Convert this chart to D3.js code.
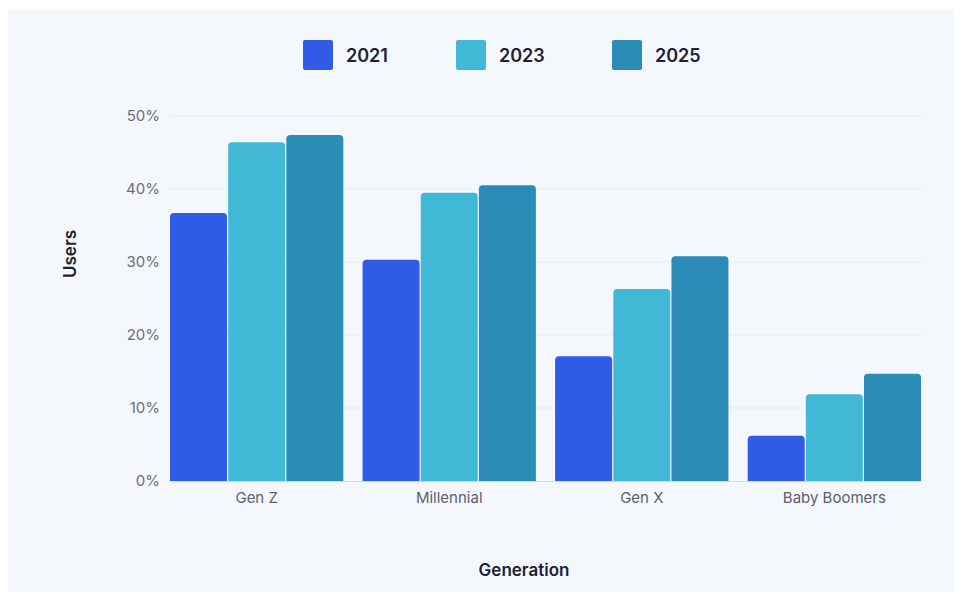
<!DOCTYPE html>
<html>
<head>
<meta charset="utf-8">
<script src="https://cdn.jsdelivr.net/npm/d3@7/dist/d3.min.js"></script>
<style>
  html, body { margin: 0; padding: 0; background: #ffffff; }
  svg { display: block; font-family: Inter, "Noto Sans", sans-serif; }
</style>
</head>
<body>
<svg id="chart" width="967" height="594"></svg>
<script>
const categories = ["Gen Z", "Millennial", "Gen X", "Baby Boomers"];
const seriesNames = ["2021", "2023", "2025"];
const values2021 = [36.7, 30.3, 17.1, 6.2];
const values2023 = [46.4, 39.5, 26.3, 11.9];
const values2025 = [47.4, 40.5, 30.8, 14.7];
const yTicks = [0, 10, 20, 30, 40, 50];
const colors = ["#2f5be6", "#41b8d5", "#2b8cb8"];

const seriesValues = [values2021, values2023, values2025];

const svg = d3.select("#chart");
const W = 967, H = 594;
const margin = { left: 170, right: 46, top: 116, bottom: 113 };

svg.append("rect").attr("x", 8).attr("y", 10).attr("width", 946).attr("height", 582)
  .attr("fill", "#f4f8fd");

const x0 = d3.scaleBand().domain(categories)
  .range([margin.left, W - margin.right]).paddingInner(0.1).paddingOuter(0);
const x1 = d3.scaleBand().domain(seriesNames)
  .range([0, x0.bandwidth()]).paddingInner(0.02);
const y = d3.scaleLinear().domain([0, 50]).range([H - margin.bottom, margin.top]);

// gridlines
svg.append("g").selectAll("line").data(yTicks.filter(d => d > 0)).join("line")
  .attr("x1", margin.left).attr("x2", W - margin.right)
  .attr("y1", d => y(d)).attr("y2", d => y(d))
  .attr("stroke", "#e6ebf2").attr("stroke-width", 1);

// y axis labels
const yAxis = d3.axisLeft(y).tickValues(yTicks).tickFormat(d => d + "%").tickSize(0).tickPadding(10);
const gy = svg.append("g").attr("transform", `translate(${margin.left},0)`).call(yAxis);
gy.select(".domain").remove();
gy.selectAll("text").attr("font-size", 15).attr("fill", "#6b6e78")
  .attr("font-family", "Inter, 'Noto Sans', sans-serif");

// bars with rounded top corners
function topRounded(x, yTop, w, h, r) {
  r = Math.min(r, h, w / 2);
  return `M${x},${yTop + h}V${yTop + r}Q${x},${yTop} ${x + r},${yTop}H${x + w - r}Q${x + w},${yTop} ${x + w},${yTop + r}V${yTop + h}Z`;
}
const groups = svg.append("g").selectAll("g").data(categories).join("g")
  .attr("transform", d => `translate(${x0(d)},0)`);
groups.selectAll("path").data((c, ci) => seriesNames.map((s, si) => ({ s, si, v: seriesValues[si][ci] })))
  .join("path")
  .attr("d", d => topRounded(x1(d.s), y(d.v), x1.bandwidth(), y(0) - y(d.v), 4))
  .attr("fill", d => colors[d.si]);

// baseline
svg.append("line").attr("x1", margin.left).attr("x2", W - margin.right)
  .attr("y1", y(0) + 0.5).attr("y2", y(0) + 0.5).attr("stroke", "#d5dae2");

// x axis labels
const xAxis = d3.axisBottom(x0).tickSize(0).tickPadding(11);
const gx = svg.append("g").attr("transform", `translate(0,${y(0)})`).call(xAxis);
gx.select(".domain").remove();
gx.selectAll("text").attr("font-size", 15).attr("fill", "#5d606b")
  .attr("font-family", "Inter, 'Noto Sans', sans-serif");

// axis titles
svg.append("text").attr("x", 524).attr("y", 576).attr("text-anchor", "middle")
  .attr("font-size", 17).attr("font-weight", 600).attr("fill", "#1e2235").text("Generation");
svg.append("text").attr("transform", "translate(76,254) rotate(-90)").attr("text-anchor", "middle")
  .attr("font-size", 17).attr("font-weight", 600).attr("fill", "#1e2235").text("Users");

// legend
const legendX = [303, 456, 612];
const lg = svg.append("g").selectAll("g").data(seriesNames).join("g")
  .attr("transform", (d, i) => `translate(${legendX[i]},40)`);
lg.append("rect").attr("width", 30).attr("height", 30).attr("rx", 2).attr("fill", (d, i) => colors[i]);
lg.append("text").attr("x", 43).attr("y", 22).attr("font-size", 18).attr("font-weight", 600)
  .attr("fill", "#1e2235").text(d => d);
</script>
</body>
</html>
